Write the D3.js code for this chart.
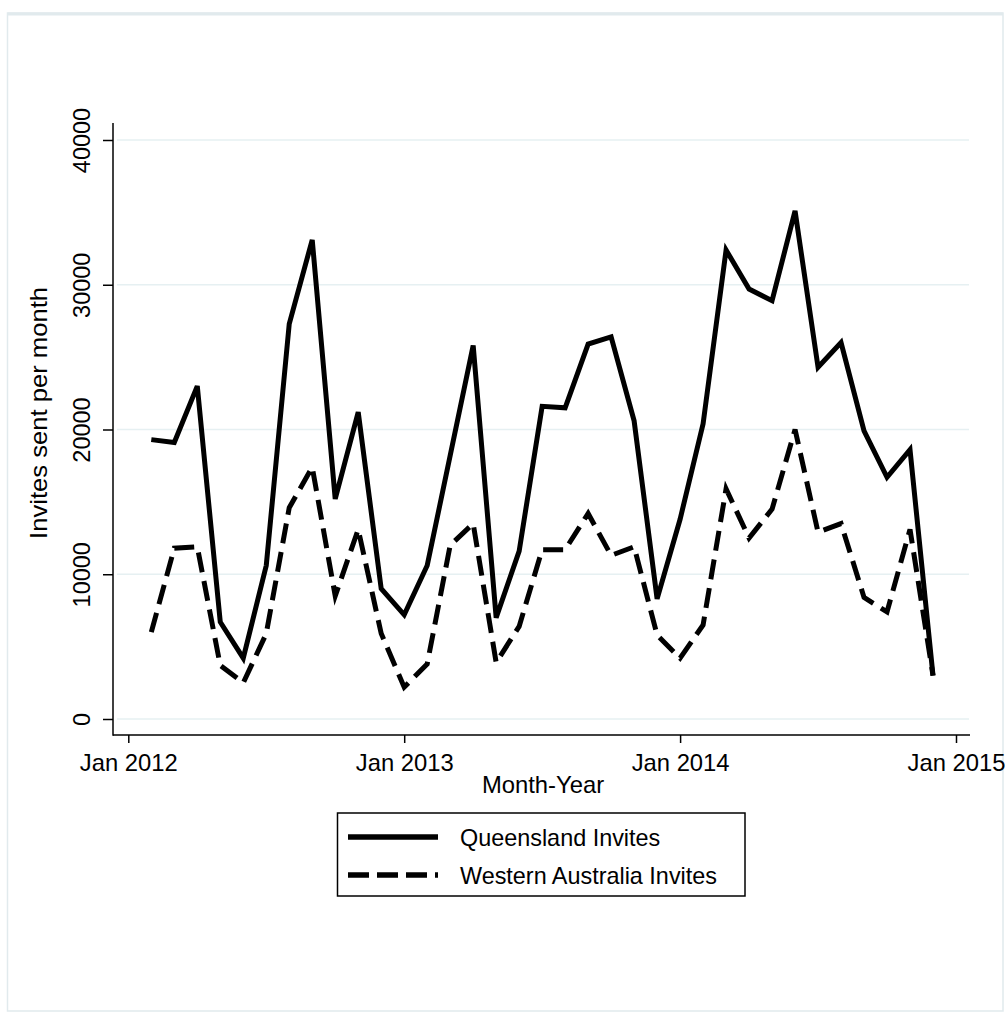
<!DOCTYPE html>
<html>
<head>
<meta charset="utf-8">
<script src="https://cdn.jsdelivr.net/npm/d3@7"></script>
<style>
  html, body { margin: 0; padding: 0; background: #fff; }
  svg { display: block; }
  text { font-family: "Liberation Sans", Arial, sans-serif; fill: #000; }
</style>
</head>
<body>
<svg id="chart" width="1005" height="1015"></svg>
<script>
// Months from Feb 2012 (index 1, Jan 2012 = 0) to Dec 2014 (index 35)
const monthIndex = d3.range(1, 36);
const queensland = [
  19300, 19100, 23000, 6700, 4200, 10600, 27300, 33100, 15200, 21200, 9000,
  7200, 10600, 18200, 25800, 7000, 11600, 21600, 21500, 25900, 26400, 20600, 8300,
  13800, 20400, 32400, 29700, 28900, 35100, 24300, 26000, 19900, 16700, 18600, 3000
];
const westernAustralia = [
  6000, 11800, 11900, 3700, 2500, 5900, 14600, 17400, 8500, 13100, 5900,
  2200, 3800, 12000, 13500, 3900, 6400, 11700, 11700, 14200, 11300, 11900, 5800,
  4200, 6500, 15900, 12500, 14500, 20000, 12900, 13500, 8400, 7400, 13100, 3000
];
const xTickValues = [0, 12, 24, 36];
const xTickLabels = ["Jan 2012", "Jan 2013", "Jan 2014", "Jan 2015"];
const yTickValues = [0, 10000, 20000, 30000, 40000];
const seriesNames = ["Queensland Invites", "Western Australia Invites"];

const svg = d3.select("#chart");

// outer frame
svg.append("rect").attr("x", 7.5).attr("y", 13).attr("width", 995.5).attr("height", 998)
  .attr("fill", "none").attr("stroke", "#e1eaed").attr("stroke-width", 1.5);
svg.append("line").attr("x1", 7.5).attr("x2", 1003).attr("y1", 14).attr("y2", 14)
  .attr("stroke", "#e1eaed").attr("stroke-width", 3);

const x = d3.scaleLinear().domain([0, 36]).range([128.3, 956]);
const y = d3.scaleLinear().domain([0, 40000]).range([719, 140]);

const axisLeftX = 113, axisBottomY = 735;

// gridlines
svg.append("g").selectAll("line").data(yTickValues).join("line")
  .attr("x1", 117).attr("x2", 969)
  .attr("y1", d => y(d)).attr("y2", d => y(d))
  .attr("stroke", "#e6f0f2").attr("stroke-width", 1.5);

// y axis
const yAxis = d3.axisLeft(y).tickValues(yTickValues).tickSize(10).tickFormat(d3.format("d"));
const gy = svg.append("g").attr("transform", `translate(${axisLeftX},0)`).call(yAxis);
gy.select(".domain").remove();
gy.selectAll(".tick line").attr("stroke", "#000").attr("stroke-width", 1.5);
gy.selectAll(".tick text")
  .attr("x", null).attr("dy", null)
  .attr("transform", "translate(-23,0) rotate(-90)")
  .attr("text-anchor", "middle")
  .style("font-size", "23.5px")
  .style("font-family", '"Liberation Sans", Arial, sans-serif')
  .attr("fill", "#000");
svg.append("line").attr("x1", axisLeftX).attr("x2", axisLeftX).attr("y1", 123).attr("y2", axisBottomY + 0.75)
  .attr("stroke", "#000").attr("stroke-width", 1.5);

// x axis
const xAxis = d3.axisBottom(x).tickValues(xTickValues).tickSize(8)
  .tickFormat((d, i) => xTickLabels[i]);
const gx = svg.append("g").attr("transform", `translate(0,${axisBottomY})`).call(xAxis);
gx.select(".domain").remove();
gx.selectAll(".tick line").attr("stroke", "#000").attr("stroke-width", 1.5);
gx.selectAll(".tick text")
  .attr("y", 35.5).attr("dy", null)
  .style("font-size", "23.8px")
  .style("font-family", '"Liberation Sans", Arial, sans-serif')
  .attr("fill", "#000");
svg.append("line").attr("x1", axisLeftX).attr("x2", 970).attr("y1", axisBottomY).attr("y2", axisBottomY)
  .attr("stroke", "#000").attr("stroke-width", 1.5);

// axis titles
svg.append("text").attr("transform", "translate(47,413) rotate(-90)")
  .attr("text-anchor", "middle").style("font-size", "23.8px")
  .attr("textLength", 252).attr("lengthAdjust", "spacingAndGlyphs")
  .text("Invites sent per month");
svg.append("text").attr("x", 543).attr("y", 792.5)
  .attr("text-anchor", "middle").style("font-size", "23.8px")
  .text("Month-Year");

// lines
const line = d3.line().x(d => x(d[0])).y(d => y(d[1]));
const qData = monthIndex.map((m, i) => [m, queensland[i]]);
const wData = monthIndex.map((m, i) => [m, westernAustralia[i]]);

svg.append("path").datum(wData).attr("d", line)
  .attr("fill", "none").attr("stroke", "#000").attr("stroke-width", 5)
  .attr("stroke-dasharray", "20,9").attr("stroke-linejoin", "miter");
svg.append("path").datum(qData).attr("d", line)
  .attr("fill", "none").attr("stroke", "#000").attr("stroke-width", 5)
  .attr("stroke-linejoin", "miter");

// legend
const lg = svg.append("g");
lg.append("rect").attr("x", 337.5).attr("y", 813).attr("width", 407.5).attr("height", 83)
  .attr("fill", "#fff").attr("stroke", "#000").attr("stroke-width", 1.5);
const rows = [
  { name: seriesNames[0], dash: null, yy: 837 },
  { name: seriesNames[1], dash: "21,8", yy: 875 }
];
rows.forEach(r => {
  const l = lg.append("line").attr("x1", 348).attr("x2", 438).attr("y1", r.yy).attr("y2", r.yy)
    .attr("stroke", "#000").attr("stroke-width", 5.5);
  if (r.dash) l.attr("stroke-dasharray", r.dash);
  lg.append("text").attr("x", 460).attr("y", r.yy + 8.5).style("font-size", "23.4px").text(r.name);
});
</script>
</body>
</html>
